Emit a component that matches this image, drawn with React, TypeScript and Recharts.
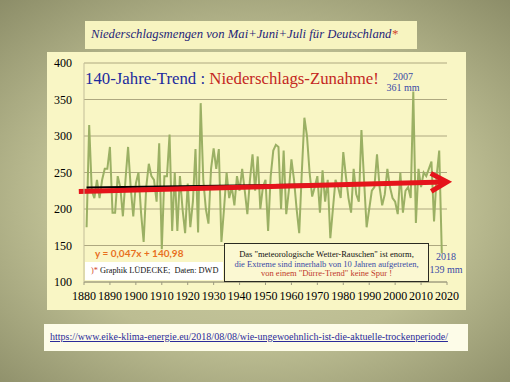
import { LineChart, Line, XAxis, YAxis, CartesianGrid, ReferenceLine } from "recharts";

// Niederschlag Mai+Juni+Juli, Deutschland, 1881-2018 (mm)
const firstYear = 1881;
const precipitation = [
  175, 315, 225, 215, 240, 215, 240, 255, 255, 285,
  195, 195, 245, 230, 190, 240, 285, 230, 190, 235,
  250, 195, 155, 230, 262, 245, 240, 210, 290, 145,
  245, 245, 302, 170, 250, 170, 245, 200, 167, 235,
  175, 210, 282, 168, 345, 240, 200, 180, 255, 283,
  255, 282, 155, 200, 250, 215, 230, 205, 245, 225,
  255, 225, 193, 240, 275, 225, 272, 200, 230, 240,
  170, 245, 280, 288, 285, 200, 280, 193, 225, 268,
  240, 200, 167, 250, 325, 300, 250, 217, 230, 245,
  195, 253, 210, 240, 160, 200, 240, 230, 215, 278,
  245, 215, 195, 255, 220, 210, 308, 240, 175, 200,
  225, 230, 275, 230, 205, 220, 255, 230, 215, 210,
  193, 250, 195, 225, 230, 215, 361, 181, 255, 230,
  250, 245, 255, 265, 183, 245, 280, 139,
];

const xTicks = [1880, 1890, 1900, 1910, 1920, 1930, 1940, 1950, 1960, 1970, 1980, 1990, 2000, 2010, 2020];
const yTicks = [100, 150, 200, 250, 300, 350, 400];

// linear trend y = 0,047x + 140,98 (x = year)
const trendLine = [
  { x: 1881, y: 229.4 },
  { x: 2018, y: 235.8 },
];
// hand-drawn red arrow
const arrowLine = [
  { x: 1878, y: 224 },
  { x: 2020, y: 237 },
];

const data = precipitation.map((mm, i) => ({ year: firstYear + i, mm }));

const serif = "'Liberation Serif', 'Times New Roman', Times, serif";

const ArrowShape = (p: any) => {
  const { x1, y1, x2, y2 } = p;
  const a = Math.atan2(y2 - y1, x2 - x1);
  const c = Math.cos(a);
  const s = Math.sin(a);
  const len = 16;
  const half = 9;
  const bx = x2 - len * c;
  const by = y2 - len * s;
  const pts = `${bx - half * s},${by + half * c} ${x2},${y2} ${bx + half * s},${by - half * c}`;
  return (
    <g>
      <line x1={x1} y1={y1} x2={x2 - 3 * c} y2={y2 - 3 * s} stroke="#e5141b" strokeWidth={5} />
      <polyline points={pts} fill="none" stroke="#e5141b" strokeWidth={5} strokeLinejoin="miter" />
    </g>
  );
};

export default function App() {
  return (
    <div
      style={{
        position: "absolute",
        left: 0,
        top: 0,
        width: 510,
        height: 382,
        overflow: "hidden",
        background: "radial-gradient(ellipse 75% 70% at 50% 52%, #cfcfa6 0%, #bcbd92 55%, #8c8d68 100%)",
        fontFamily: serif,
      }}
    >
      {/* title box */}
      <div
        style={{
          position: "absolute",
          left: 85,
          top: 21,
          width: 332,
          height: 28,
          background: "#f7f4c0",
        }}
      >
        <div
          style={{
            position: "absolute",
            left: 6,
            top: 6,
            fontStyle: "italic",
            fontSize: 12.7,
            color: "#1f1f78",
            whiteSpace: "nowrap",
          }}
        >
          Niederschlagsmengen von Mai+Juni+Juli für Deutschland<span style={{ color: "#d2452a" }}>*</span>
        </div>
      </div>

      {/* chart panel */}
      <div style={{ position: "absolute", left: 47, top: 52, width: 419, height: 258, background: "#f9f6c5" }}>
        <LineChart width={419} height={258} data={data} margin={{ top: 11, right: 19, left: 0, bottom: 0 }}>
          <CartesianGrid horizontal vertical={false} stroke="#aea880" strokeWidth={1} />
          <XAxis
            dataKey="year"
            type="number"
            domain={[1880, 2020]}
            ticks={xTicks}
            interval={0}
            height={28}
            tickSize={3}
            tickMargin={6}
            stroke="#9c9a80"
            tick={{ fontFamily: serif, fontSize: 12, fill: "#000" }}
          />
          <YAxis
            type="number"
            domain={[100, 400]}
            ticks={yTicks}
            interval={0}
            width={37}
            tickLine={false}
            tickMargin={6}
            stroke="#c2bd98"
            tick={{ fontFamily: serif, fontSize: 12, fill: "#000" }}
          />
          <Line
            dataKey="mm"
            stroke="#9bb064"
            strokeWidth={2}
            dot={false}
            isAnimationActive={false}
          />
          <ReferenceLine segment={trendLine} stroke="#000" strokeWidth={2} ifOverflow="visible" />
          <ReferenceLine segment={arrowLine} ifOverflow="visible" shape={ArrowShape} />
        </LineChart>

        {/* headline inside plot */}
        <div style={{ position: "absolute", left: 38, top: 17, fontSize: 16.8, whiteSpace: "nowrap" }}>
          <span style={{ color: "#1c2a9e" }}>140-Jahre-Trend</span>
          <span style={{ color: "#1c2a9e" }}> : </span>
          <span style={{ color: "#c4271f" }}>Niederschlags-Zunahme!</span>
        </div>

        {/* 2007 annotation */}
        <div
          style={{
            position: "absolute",
            left: 330,
            top: 19,
            width: 52,
            textAlign: "center",
            fontSize: 10,
            lineHeight: "11px",
            color: "#3a4aa6",
          }}
        >
          2007
          <br />
          361 mm
        </div>

        {/* 2018 annotation */}
        <div
          style={{
            position: "absolute",
            left: 374,
            top: 198,
            width: 50,
            textAlign: "center",
            fontSize: 10,
            lineHeight: "13px",
            color: "#3a4aa6",
          }}
        >
          2018
          <br />
          139 mm
        </div>

        {/* regression equation */}
        <div
          style={{
            position: "absolute",
            left: 48,
            top: 195,
            fontFamily: "Lato, 'Open Sans', sans-serif",
            fontWeight: 700,
            fontSize: 10,
            color: "#e8701e",
            whiteSpace: "nowrap",
          }}
        >
          y = 0,047x + 140,98
        </div>

        {/* credit box */}
        <div
          style={{
            position: "absolute",
            left: 38,
            top: 210,
            width: 138,
            height: 18,
            background: "#ffffff",
            fontSize: 8.3,
            lineHeight: "18px",
            whiteSpace: "nowrap",
          }}
        >
          <span style={{ marginLeft: 6, color: "#d2452a" }}>)*</span>
          <span style={{ color: "#111" }}> Graphik LÜDECKE;&nbsp; Daten: DWD</span>
        </div>

        {/* note box */}
        <div
          style={{
            position: "absolute",
            left: 177,
            top: 191,
            width: 205,
            height: 39,
            boxSizing: "border-box",
            border: "1.5px solid #2a2a22",
            background: "#fbf8d2",
            fontSize: 8.5,
            lineHeight: "9.6px",
            textAlign: "center",
            paddingTop: 6,
            whiteSpace: "nowrap",
          }}
        >
          <div style={{ color: "#111" }}>Das "meteorologische Wetter-Rauschen" ist enorm,</div>
          <div style={{ color: "#3a4aa6" }}>die Extreme sind innerhalb von 10 Jahren aufgetreten,</div>
          <div style={{ color: "#c0392b" }}>von einem "Dürre-Trend" keine Spur !</div>
        </div>
      </div>

      {/* source url */}
      <div
        style={{
          position: "absolute",
          left: 44,
          top: 324,
          width: 424,
          height: 27,
          background: "#fdfce8",
        }}
      >
        <div
          style={{
            position: "absolute",
            left: 6,
            top: 7,
            fontSize: 10,
            color: "#2b2b9a",
            textDecoration: "underline",
            whiteSpace: "nowrap",
          }}
        >
          https://www.eike-klima-energie.eu/2018/08/08/wie-ungewoehnlich-ist-die-aktuelle-trockenperiode/
        </div>
      </div>
    </div>
  );
}
